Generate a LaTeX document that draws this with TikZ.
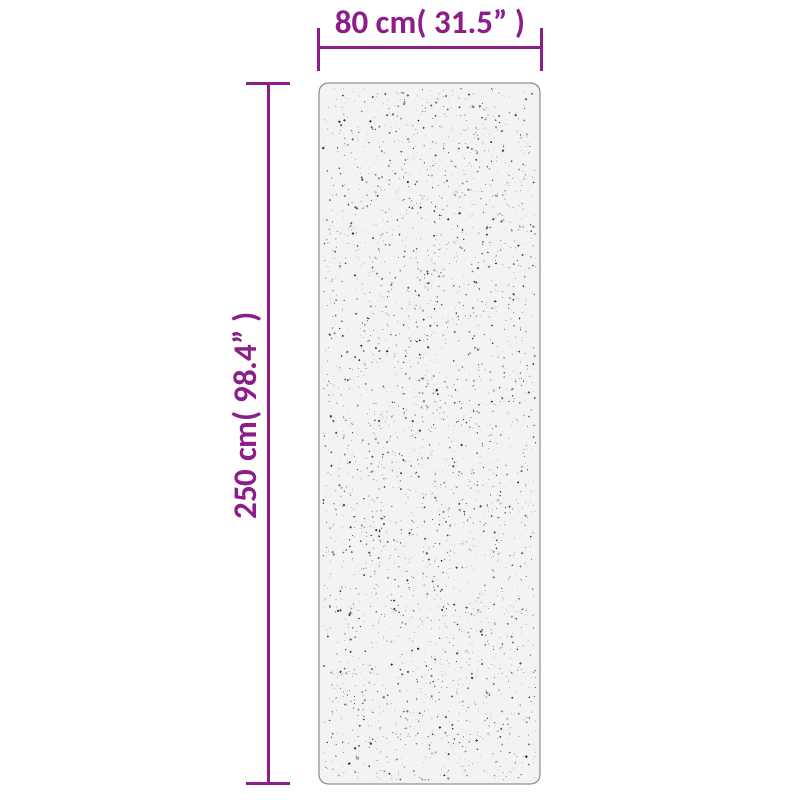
\documentclass[tikz,border=0pt]{standalone}
\usepackage{fontspec}
\setmainfont{Carlito}
\definecolor{dimpurple}{RGB}{140,30,138}
\definecolor{rugfill}{RGB}{243,243,243}
\definecolor{rugedge}{RGB}{150,150,150}
\tikzset{
  dimline/.style={draw=dimpurple, line width=3pt},
  dimlabel/.style={text=dimpurple, font=\fontsize{33}{33}\selectfont\bfseries, inner sep=0pt},
}
\begin{document}
\begin{tikzpicture}[x=1pt,y=-1pt]
\useasboundingbox (0,0) rectangle (800,800);
% rug
\draw[fill=rugfill, draw=rugedge, line width=1.2pt, rounded corners=9pt] (319,83) rectangle (540,784);
\pgfmathsetseed{7}
\foreach \i in {1,...,3200}{
  \pgfmathsetmacro{\px}{323+213*rnd}
  \pgfmathsetmacro{\py}{88+692*rnd}
  \pgfmathsetmacro{\pr}{0.35+1.0*rnd^3}
  \pgfmathsetmacro{\pg}{20+65*rnd}
  \fill[black!\pg] (\px,\py) circle (\pr);
}
% horizontal dimension
\draw[dimline] (318,48) -- (541,48);
\draw[dimline] (318,28) -- (318,71);
\draw[dimline] (541,28) -- (541,71);
\node[dimlabel] (wlabel) at (430,24) {80 cm( 31.5” )};
% vertical dimension
\draw[dimline] (268,83) -- (268,783);
\draw[dimline] (246,83) -- (290,83);
\draw[dimline] (246,783) -- (290,783);
\node[dimlabel, rotate=90] (hlabel) at (247,416) {250 cm( 98.4” )};
\end{tikzpicture}
\end{document}
